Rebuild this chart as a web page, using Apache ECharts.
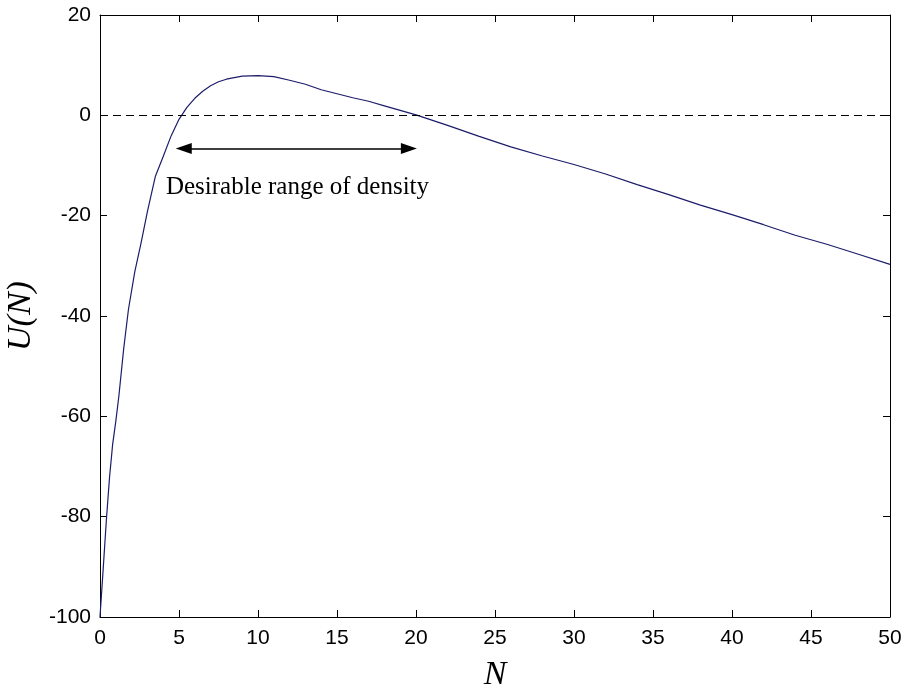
<!DOCTYPE html>
<html>
<head>
<meta charset="utf-8">
<script src="https://cdn.jsdelivr.net/npm/echarts@6/dist/echarts.min.js"></script>
<style>
  html, body { margin: 0; padding: 0; background: #fff; }
  #chart { width: 906px; height: 691px; }
</style>
</head>
<body>
<div id="chart"></div>
<script>
// ==================== DATA ====================
const nVals = [0, 0.2, 0.4, 0.6, 0.8, 1.0, 1.2, 1.5, 1.8, 2.2, 2.6, 3.0, 3.5, 4.0, 4.5,
  5.0, 5.5, 6.0, 6.5, 7.0, 7.5, 8, 9, 10, 11, 12, 13, 14, 15, 16, 17, 18, 19, 20,
  22, 24, 26, 28, 30, 32, 34, 36, 38, 40, 42, 44, 46, 48, 50];
const uVals = [-100, -90.5, -80.8, -72.3, -65.6, -61, -55.8, -46.5, -38.7, -31.2, -25.4, -19.2, -12.2, -8.2, -4.1,
  -0.8, 1.6, 3.4, 4.8, 5.9, 6.7, 7.2, 7.8, 7.9, 7.7, 7.0, 6.2, 5.1, 4.3, 3.5, 2.8, 1.9, 1.0, 0.1,
  -2.0, -4.2, -6.3, -8.1, -9.8, -11.7, -13.8, -15.8, -17.9, -19.8, -21.8, -23.9, -25.7, -27.7, -29.7];
const xTicks = { min: 0, max: 50, step: 5 };
const yTicks = { min: -100, max: 20, step: 20 };
// arrow heads are centred on these points
const rangeArrow = [[5.3, -6.6], [19.55, -6.6]];
const rangeNote = { text: 'Desirable range of density', at: [12.5, -14.3] };

// ==================== CHART ====================
const chart = echarts.init(document.getElementById('chart'));
const tickFont = { color: '#000', fontSize: 21, fontFamily: 'Liberation Sans, Arial, sans-serif' };
const nameFont = { color: '#000', fontSize: 34, fontStyle: 'italic', fontFamily: 'Liberation Serif, Times New Roman, serif' };
const lineC = { lineStyle: { color: '#000', width: 1 } };

const baseX = { type: 'value', min: xTicks.min, max: xTicks.max, interval: xTicks.step,
  axisLine: { show: true, onZero: false, ...lineC }, axisTick: { inside: true, length: 7, ...lineC }, splitLine: { show: false } };
const baseY = { type: 'value', min: yTicks.min, max: yTicks.max, interval: yTicks.step,
  axisLine: { show: true, onZero: false, ...lineC }, axisTick: { inside: true, length: 7, ...lineC }, splitLine: { show: false } };

chart.setOption({
  animation: false,
  backgroundColor: '#fff',
  grid: { left: 100, right: 16, top: 15, bottom: 74, containLabel: false, outerBoundsMode: 'none' },
  xAxis: [
    { ...baseX, position: 'bottom', name: 'N', nameLocation: 'middle', nameGap: 41, nameTextStyle: nameFont,
      axisLabel: { ...tickFont, margin: 11 } },
    { ...baseX, position: 'top', axisLabel: { show: false } }
  ],
  yAxis: [
    { ...baseY, position: 'left', name: 'U(N)', nameLocation: 'middle', nameGap: 50, nameTextStyle: nameFont,
      axisLabel: { ...tickFont, margin: 9 } },
    { ...baseY, position: 'right', axisLabel: { show: false } }
  ],
  series: [{
    type: 'line',
    data: nVals.map((n, i) => [n, uVals[i]]),
    showSymbol: false,
    lineStyle: { color: '#1c1c6b', width: 1.2 },
    markLine: {
      silent: true,
      symbol: ['none', 'none'],
      label: { show: false },
      data: [
        { yAxis: 0, lineStyle: { color: '#000', width: 1, type: [8, 5] } },
        [
          { coord: rangeArrow[0], symbol: 'triangle', symbolSize: [11, 16] },
          { coord: rangeArrow[1], symbol: 'triangle', symbolSize: [11, 16] }
        ]
      ],
      lineStyle: { color: '#000', width: 1.5, type: 'solid' }
    },
    markPoint: {
      silent: true,
      symbol: 'circle', symbolSize: 0,
      data: [{ coord: rangeNote.at, value: rangeNote.text }],
      label: { show: true, position: 'inside', formatter: p => p.value,
        color: '#000', fontSize: 25, fontFamily: 'Liberation Serif, Times New Roman, serif' }
    }
  }]
});
</script>
</body>
</html>
